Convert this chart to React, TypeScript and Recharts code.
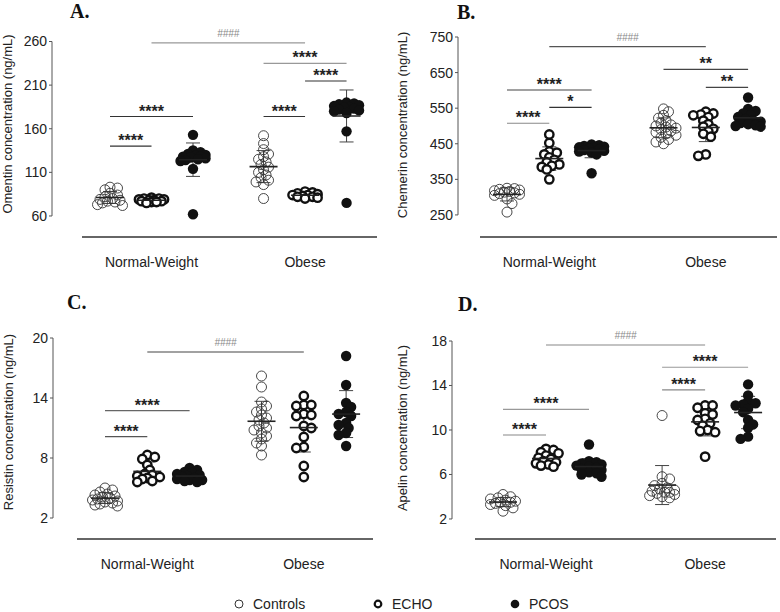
import React from "react"
import { ErrorBar, ReferenceLine, Scatter, ScatterChart, XAxis, YAxis } from "recharts"

const FONT = '"Liberation Sans", Arial, sans-serif'

// group order: NW Controls, NW ECHO, NW PCOS, Obese Controls, Obese ECHO, Obese PCOS
const groupPositions = [1, 2, 3, 4.7, 5.7, 6.7]
const categoryLabels = ["Normal-Weight", "Obese"]
const categoryPositions = [2, 5.7]
const seriesNames = ["Controls", "ECHO", "PCOS"]

// A. Omentin (ng/mL)
const omentinNwControls = [93, 92, 90, 86, 84, 82, 80, 79, 78, 77, 76, 75, 73, 72]
const omentinNwEcho = [81, 80, 80, 79, 79, 78, 78, 77, 77, 76, 76, 75]
const omentinNwPcos = [153, 135, 133, 131, 130, 129, 128, 128, 127, 126, 125, 124, 123, 114, 62]
const omentinObControls = [152, 143, 136, 131, 128, 125, 122, 119, 116, 113, 110, 107, 104, 101, 99, 96, 80]
const omentinObEcho = [88, 87, 86, 85, 84, 84, 83, 82, 82, 81, 80]
const omentinObPcos = [190, 189, 188, 187, 186, 185, 184, 183, 182, 181, 180, 178, 157, 75]
const omentinTicks = [60, 110, 160, 210, 260]

// B. Chemerin (ng/mL)
const chemerinNwControls = [325, 324, 322, 320, 318, 316, 314, 312, 310, 308, 305, 295, 282, 258]
const chemerinNwEcho = [476, 452, 428, 425, 420, 412, 405, 398, 392, 388, 385, 378, 350]
const chemerinNwPcos = [448, 446, 444, 442, 440, 438, 436, 434, 432, 430, 428, 425, 420, 367]
const chemerinObControls = [548, 540, 530, 522, 515, 508, 503, 500, 497, 494, 490, 486, 482, 478, 474, 468, 462, 455, 450]
const chemerinObEcho = [540, 535, 532, 530, 525, 515, 505, 498, 492, 485, 478, 470, 420, 416]
const chemerinObPcos = [580, 548, 542, 535, 530, 525, 520, 516, 512, 508, 505, 502, 500, 498]
const chemerinTicks = [250, 350, 450, 550, 650, 750]

// C. Resistin (ng/mL)
const resistinNwControls = [5.0, 4.8, 4.6, 4.4, 4.3, 4.2, 4.1, 4.0, 3.9, 3.8, 3.7, 3.6, 3.5, 3.4, 3.3, 3.2]
const resistinNwEcho = [8.3, 8.1, 7.9, 7.3, 6.8, 6.4, 6.3, 6.2, 6.1, 6.0, 5.9, 5.7, 5.6]
const resistinNwPcos = [7.0, 6.8, 6.6, 6.5, 6.4, 6.3, 6.2, 6.1, 6.0, 5.9, 5.8, 5.8, 5.7, 5.6]
const resistinObControls = [16.2, 15.1, 13.6, 13.2, 12.9, 12.6, 12.3, 12.0, 11.8, 11.5, 11.2, 11.0, 10.8, 10.5, 10.2, 9.9, 9.5, 9.2, 8.3]
const resistinObEcho = [14.2, 13.3, 13.3, 13.2, 12.4, 12.3, 12.2, 11.2, 11.0, 10.1, 9.1, 9.0, 7.2, 6.1]
const resistinObPcos = [18.2, 15.3, 13.5, 13.1, 12.6, 12.4, 12.2, 11.5, 11.3, 11.0, 10.5, 10.3, 9.2]
const resistinTicks = [2, 8, 14, 20]

// D. Apelin (ng/mL)
const apelinNwControls = [4.2, 4.0, 3.9, 3.8, 3.7, 3.6, 3.5, 3.5, 3.4, 3.3, 3.2, 3.0, 2.7]
const apelinNwEcho = [8.3, 8.2, 8.0, 7.9, 7.7, 7.5, 7.4, 7.2, 7.1, 7.0, 6.9, 6.8, 6.7]
const apelinNwPcos = [8.7, 7.2, 7.1, 7.0, 6.9, 6.8, 6.7, 6.6, 6.5, 6.4, 6.2, 6.1, 6.0, 5.8]
const apelinObControls = [11.3, 5.8, 5.6, 5.2, 5.0, 4.8, 4.7, 4.6, 4.5, 4.4, 4.4, 4.3, 4.2, 4.1, 4.0, 3.9]
const apelinObEcho = [12.2, 12.2, 12.0, 11.5, 11.4, 11.0, 10.9, 10.6, 10.4, 10.0, 9.9, 9.8, 7.6]
const apelinObPcos = [14.1, 13.1, 12.6, 12.4, 12.3, 12.2, 11.9, 11.6, 10.9, 10.5, 10.2, 9.4, 9.2]
const apelinTicks = [2, 6, 10, 14, 18]

// significance brackets: group index from/to, height in data units
const omentinBrackets = [
  { from: 1, to: 4, y: 258.5, text: "####", color: "#999" },
  { from: 3, to: 5, y: 235, text: "****", color: "#999" },
  { from: 4, to: 5, y: 214.7, text: "****", color: "#333" },
  { from: 3, to: 4, y: 174, text: "****", color: "#333" },
  { from: 0, to: 2, y: 174, text: "****", color: "#333" },
  { from: 0, to: 1, y: 140, text: "****", color: "#333" },
]
const chemerinBrackets = [
  { from: 1, to: 4, y: 722.8, text: "####", color: "#555" },
  { from: 0, to: 2, y: 601, text: "****", color: "#444" },
  { from: 1, to: 2, y: 552.5, text: "*", color: "#333" },
  { from: 0, to: 1, y: 507.6, text: "****", color: "#888" },
  { from: 3, to: 5, y: 659, text: "**", color: "#444" },
  { from: 4, to: 5, y: 608.7, text: "**", color: "#444" },
]
const resistinBrackets = [
  { from: 1, to: 4, y: 18.6, text: "####", color: "#444" },
  { from: 0, to: 2, y: 12.73, text: "****", color: "#666" },
  { from: 0, to: 1, y: 10.13, text: "****", color: "#555" },
]
const apelinBrackets = [
  { from: 1, to: 4, y: 17.64, text: "####", color: "#888" },
  { from: 0, to: 2, y: 11.86, text: "****", color: "#999" },
  { from: 0, to: 1, y: 9.55, text: "****", color: "#888" },
  { from: 3, to: 5, y: 15.64, text: "****", color: "#999" },
  { from: 3, to: 4, y: 13.6, text: "****", color: "#888" },
]

type Bracket = { from: number; to: number; y: number; text: string; color: string }
type Layout = {
  left: number; top: number
  plotLeft: number; plotRight: number; plotTop: number; plotBottom: number
  x0: number; k: number; lineStart: number
  labelX: number; labelY: number
}

const W = 390
const H = 290

// spread points of one column sideways (within a narrow band, overlapping allowed)
function swarm(values: number[], pos: number, k: number, pxY: number) {
  const MIN = 5.5
  const STEP = 2.5
  const MAXOFF = 14
  const placed: { px: number; py: number }[] = []
  const out: { x: number; y: number }[] = []
  const order = values.map((_, i) => i).sort((a, b) => values[b] - values[a])
  let flip = 1
  for (const i of order) {
    const py = values[i] * pxY
    const cands: number[] = [0]
    for (let s = STEP; s <= MAXOFF; s += STEP) cands.push(s * flip, -s * flip)
    const minDist = (c: number) =>
      placed.reduce((m, p) => Math.min(m, Math.hypot(p.px - c, p.py - py)), Infinity)
    let chosen = cands.find((c) => minDist(c) >= MIN)
    if (chosen === undefined) {
      chosen = cands.reduce((best, c) => (minDist(c) > minDist(best) ? c : best), 0)
    }
    if (chosen !== 0) flip = -flip
    placed.push({ px: chosen, py })
    out.push({ x: pos + chosen / k, y: values[i] })
  }
  return out
}

const mean = (v: number[]) => v.reduce((a, b) => a + b, 0) / v.length
const sd = (v: number[]) => {
  const m = mean(v)
  return Math.sqrt(v.reduce((a, b) => a + (b - m) ** 2, 0) / (v.length - 1))
}

const ControlDot = (p: any) => <circle cx={p.cx} cy={p.cy} r={5} fill="none" stroke="#333" strokeWidth={0.9} />
const EchoDot = (p: any) => <circle cx={p.cx} cy={p.cy} r={4.2} fill="#fff" stroke="#111" strokeWidth={2.4} />
const PcosDot = (p: any) => <circle cx={p.cx} cy={p.cy} r={5.2} fill="#111" />
const MeanLine = (p: any) => (
  <line x1={p.cx - 14} x2={p.cx + 14} y1={p.cy} y2={p.cy} stroke="#222" strokeWidth={1.6} />
)

interface PanelProps {
  letter: string
  letterPos: [number, number]
  yLabel: string
  yTicks: number[]
  yDomain: [number, number]
  layout: Layout
  groups: number[][]
  brackets: Bracket[]
}

function Panel({ letter, letterPos, yLabel, yTicks, yDomain, layout, groups, brackets }: PanelProps) {
  const { plotLeft, plotRight, plotTop, plotBottom, x0, k } = layout
  const xDomain: [number, number] = [1 + (plotLeft - x0) / k, 1 + (plotRight - x0) / k]
  const lineStart = 1 + (layout.lineStart - x0) / k
  const pxY = (plotBottom - plotTop) / (yDomain[1] - yDomain[0])

  const cols = groups.map((g, i) => swarm(g, groupPositions[i], k, pxY))
  const controls = [...cols[0], ...cols[3]]
  const echo = [...cols[1], ...cols[4]]
  const pcos = [...cols[2], ...cols[5]]
  const summary = groups.map((g, i) => ({ x: groupPositions[i], y: mean(g), sd: sd(g) }))

  return (
    <>
      <div
        style={{
          position: "absolute",
          left: letterPos[0],
          top: letterPos[1],
          fontFamily: '"Liberation Serif", "Times New Roman", serif',
          fontWeight: "bold",
          fontSize: 20,
          lineHeight: "20px",
          color: "#111",
        }}
      >
        {letter}
      </div>
      <div style={{ position: "absolute", left: layout.left, top: layout.top }}>
        <ScatterChart
          width={W}
          height={H}
          margin={{ top: plotTop, right: W - plotRight, bottom: H - plotBottom - 40, left: 0 }}
        >
          <XAxis
            type="number"
            dataKey="x"
            domain={xDomain}
            allowDataOverflow
            ticks={categoryPositions}
            interval={0}
            tickFormatter={(v) => categoryLabels[categoryPositions.indexOf(v)] ?? ""}
            axisLine={false}
            tickLine={false}
            tickSize={0}
            tickMargin={20}
            height={40}
            tick={{ fontSize: 14, fill: "#222", fontFamily: FONT }}
          />
          <YAxis
            type="number"
            dataKey="y"
            domain={yDomain}
            allowDataOverflow
            ticks={yTicks}
            interval={0}
            width={plotLeft}
            axisLine={false}
            tickSize={3}
            tickMargin={2}
            tickLine={{ stroke: "#555" }}
            tick={{ fontSize: 14, fill: "#222", fontFamily: FONT }}
            label={{
              value: yLabel,
              content: () => (
                <text
                  x={layout.labelX}
                  y={layout.labelY}
                  transform={`rotate(-90, ${layout.labelX}, ${layout.labelY})`}
                  textAnchor="middle"
                  dominantBaseline="central"
                  fontSize={13}
                  fontFamily={FONT}
                  fill="#222"
                >
                  {yLabel}
                </text>
              ),
            }}
          />
          <ReferenceLine
            segment={[
              { x: xDomain[0], y: yTicks[0] },
              { x: xDomain[0], y: yTicks[yTicks.length - 1] },
            ]}
            stroke="#555"
            ifOverflow="visible"
          />
          <ReferenceLine
            segment={[
              { x: lineStart, y: yDomain[0] },
              { x: xDomain[1], y: yDomain[0] },
            ]}
            stroke="#333"
            strokeWidth={1.3}
            ifOverflow="visible"
          />
          {brackets.map((b, i) => {
            const hash = b.text.startsWith("#")
            return (
              <ReferenceLine
                key={i}
                segment={[
                  { x: groupPositions[b.from], y: b.y },
                  { x: groupPositions[b.to], y: b.y },
                ]}
                stroke={b.color}
                strokeWidth={1.2}
                ifOverflow="visible"
                label={{
                  value: b.text,
                  position: "top",
                  offset: hash ? 6 : 0,
                  fontSize: hash ? 10 : 16,
                  fontWeight: hash ? "normal" : "bold",
                  fontStyle: hash ? "italic" : "normal",
                  fontFamily: FONT,
                  fill: hash ? "#888" : "#222",
                }}
              />
            )
          })}
          <Scatter name={seriesNames[0]} data={controls} shape={ControlDot} isAnimationActive={false} />
          <Scatter name={seriesNames[1]} data={echo} shape={EchoDot} isAnimationActive={false} />
          <Scatter name={seriesNames[2]} data={pcos} shape={PcosDot} isAnimationActive={false} />
          <Scatter data={summary} shape={MeanLine} isAnimationActive={false}>
            <ErrorBar dataKey="sd" direction="y" width={7} stroke="#444" strokeWidth={1} isAnimationActive={false} />
          </Scatter>
        </ScatterChart>
      </div>
    </>
  )
}

function LegendItem({ x, label, kind }: { x: number; label: string; kind: number }) {
  const dot =
    kind === 0 ? (
      <circle cx={6} cy={6} r={4} fill="none" stroke="#333" strokeWidth={1} />
    ) : kind === 1 ? (
      <circle cx={6} cy={6} r={3.3} fill="#fff" stroke="#111" strokeWidth={2.2} />
    ) : (
      <circle cx={6} cy={6} r={4.3} fill="#111" />
    )
  return (
    <div style={{ position: "absolute", left: x - 6, top: 597, display: "flex", alignItems: "center" }}>
      <svg width={12} height={12}>{dot}</svg>
      <span style={{ marginLeft: 8, fontFamily: FONT, fontSize: 14, color: "#222", lineHeight: "14px" }}>
        {label}
      </span>
    </div>
  )
}

export default function App() {
  return (
    <div style={{ position: "absolute", left: 0, top: 0, width: 780, height: 612, background: "#fff" }}>
      <Panel
        letter="A."
        letterPos={[70, 1]}
        yLabel="Omentin concentration (ng/mL)"
        yTicks={omentinTicks}
        yDomain={[35.9, 260]}
        layout={{ left: 0, top: 0, plotLeft: 52, plotRight: 377, plotTop: 41.5, plotBottom: 237, x0: 110, k: 41.5, lineStart: 82, labelX: 7, labelY: 124 }}
        groups={[omentinNwControls, omentinNwEcho, omentinNwPcos, omentinObControls, omentinObEcho, omentinObPcos]}
        brackets={omentinBrackets}
      />
      <Panel
        letter="B."
        letterPos={[457, 2]}
        yLabel="Chemerin concentration (ng/mL)"
        yTicks={chemerinTicks}
        yDomain={[188, 750]}
        layout={{ left: 390, top: 0, plotLeft: 68, plotRight: 387, plotTop: 37, plotBottom: 237, x0: 117, k: 42.3, lineStart: 90, labelX: 12, labelY: 125 }}
        groups={[chemerinNwControls, chemerinNwEcho, chemerinNwPcos, chemerinObControls, chemerinObEcho, chemerinObPcos]}
        brackets={chemerinBrackets}
      />
      <Panel
        letter="C."
        letterPos={[67, 292]}
        yLabel="Resistin concentration (ng/mL)"
        yTicks={resistinTicks}
        yDomain={[-0.1, 20]}
        layout={{ left: 0, top: 290, plotLeft: 53, plotRight: 373, plotTop: 48, plotBottom: 249, x0: 105, k: 42.3, lineStart: 77, labelX: 8, labelY: 132 }}
        groups={[resistinNwControls, resistinNwEcho, resistinNwPcos, resistinObControls, resistinObEcho, resistinObPcos]}
        brackets={resistinBrackets}
      />
      <Panel
        letter="D."
        letterPos={[458, 294]}
        yLabel="Apelin concentration (ng/mL)"
        yTicks={apelinTicks}
        yDomain={[0.2, 18]}
        layout={{ left: 390, top: 290, plotLeft: 62, plotRight: 386, plotTop: 51, plotBottom: 249, x0: 113, k: 43, lineStart: 85, labelX: 12, labelY: 138 }}
        groups={[apelinNwControls, apelinNwEcho, apelinNwPcos, apelinObControls, apelinObEcho, apelinObPcos]}
        brackets={apelinBrackets}
      />
      <LegendItem x={239} label={seriesNames[0]} kind={0} />
      <LegendItem x={378} label={seriesNames[1]} kind={1} />
      <LegendItem x={515} label={seriesNames[2]} kind={2} />
    </div>
  )
}
